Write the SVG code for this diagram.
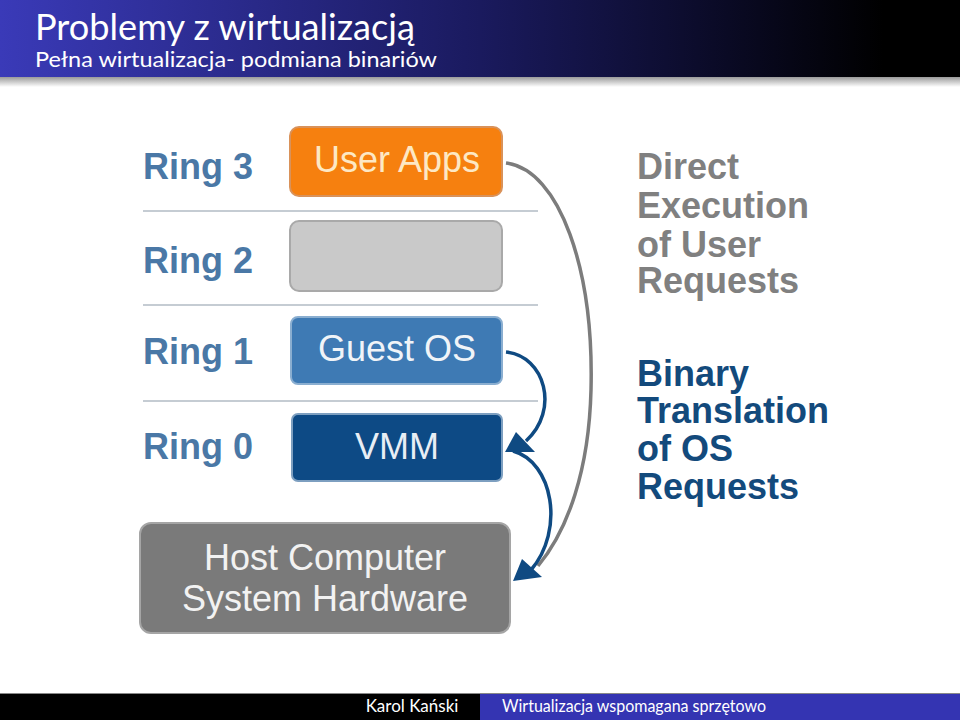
<svg xmlns="http://www.w3.org/2000/svg" width="960" height="720" viewBox="0 0 960 720">
  <defs>
    <linearGradient id="hdr" x1="0" y1="0" x2="1" y2="0">
      <stop offset="0" stop-color="#3a3ab8"/>
      <stop offset="0.5" stop-color="#1a1a5e"/>
      <stop offset="0.92" stop-color="#000000"/>
    </linearGradient>
    <linearGradient id="shd" x1="0" y1="0" x2="0" y2="1">
      <stop offset="0" stop-color="#9a9a9a"/>
      <stop offset="1" stop-color="#ffffff"/>
    </linearGradient>
  </defs>
  <style>
    .hd { font-family: Lato, "DejaVu Sans", sans-serif; fill: #ffffff; }
    .ring { font-family: "Liberation Sans", Arial, sans-serif; font-weight: bold; font-size: 36px; fill: #4a78a6; }
    .bx { font-family: "Liberation Sans", Arial, sans-serif; font-size: 36px; text-anchor: middle; }
    .sep { stroke: #c5ccd3; stroke-width: 2; }
    .rt { font-family: "Liberation Sans", Arial, sans-serif; font-weight: bold; font-size: 36px; }
    .ft { font-family: Lato, "DejaVu Sans", sans-serif; font-size: 17px; fill: #ffffff; }
  </style>
  <rect width="960" height="720" fill="#ffffff"/>
  <!-- header -->
  <rect x="0" y="0" width="960" height="77" fill="url(#hdr)"/>
  <rect x="0" y="77" width="960" height="10" fill="url(#shd)"/>
  <text class="hd" x="35" y="40" font-size="36" textLength="380" lengthAdjust="spacingAndGlyphs">Problemy z wirtualizacją</text>
  <text class="hd" x="35" y="67" font-size="22" textLength="402" lengthAdjust="spacingAndGlyphs">Pełna wirtualizacja- podmiana binariów</text>

  <!-- separators -->
  <g id="separators">
    <line class="sep" x1="143" y1="211" x2="538" y2="211"/>
    <line class="sep" x1="143" y1="305" x2="538" y2="305"/>
    <line class="sep" x1="143" y1="401" x2="538" y2="401"/>
  </g>

  <!-- ring labels -->
  <g id="ring-labels">
    <text class="ring" x="143" y="179">Ring 3</text>
    <text class="ring" x="143" y="273">Ring 2</text>
    <text class="ring" x="143" y="364">Ring 1</text>
    <text class="ring" x="143" y="459">Ring 0</text>
  </g>

  <g id="user-apps">
    <rect x="290" y="127" width="212" height="69" rx="9" fill="#f6800f" stroke="#d9925a" stroke-width="2"/>
    <text class="bx" x="397" y="172" fill="#fde8c4">User Apps</text>
  </g>
  <g id="ring2-box">
    <rect x="290" y="221" width="212" height="70" rx="9" fill="#c9c9c9" stroke="#a9a9a9" stroke-width="2"/>
  </g>
  <g id="guest-os">
    <rect x="291" y="317" width="211" height="67" rx="7" fill="#3e7ab4" stroke="#8aaed0" stroke-width="2"/>
    <text class="bx" x="397" y="361" fill="#f0f4f8">Guest OS</text>
  </g>
  <g id="vmm">
    <rect x="292" y="414" width="210" height="67" rx="6" fill="#0d4a85" stroke="#7d9fc0" stroke-width="2"/>
    <text class="bx" x="397" y="459" fill="#e8eef5">VMM</text>
  </g>
  <g id="host">
    <rect x="140" y="523" width="370" height="110" rx="11" fill="#7a7a7a" stroke="#a5a5a5" stroke-width="2"/>
    <text class="bx" x="325" y="570" fill="#f2f2f2">Host Computer</text>
    <text class="bx" x="325" y="611" fill="#f2f2f2">System Hardware</text>
  </g>

  <!-- connectors -->
  <g id="connectors" fill="none">
    <path d="M506,163 C560,170 594,270 591,390 C589,470 568,530 538,566" stroke="#7c7c7c" stroke-width="3.5"/>
    <path d="M506,352 C545,356 560,410 526,441" stroke="#0f4a82" stroke-width="3.5"/>
    <path d="M513,451 C553,462 565,530 531,570" stroke="#0f4a82" stroke-width="3.5"/>
    <polygon points="505,452 516,432 535,452" fill="#0f4a82"/>
    <polygon points="513,581 522,559 542,577" fill="#0f4a82"/>
  </g>

  <!-- right texts -->
  <g id="direct-exec">
    <text class="rt" fill="#808080" x="637" y="179">Direct</text>
    <text class="rt" fill="#808080" x="637" y="218">Execution</text>
    <text class="rt" fill="#808080" x="637" y="257">of User</text>
    <text class="rt" fill="#808080" x="637" y="293">Requests</text>
  </g>
  <g id="binary-translation">
    <text class="rt" fill="#134a7c" x="637" y="386">Binary</text>
    <text class="rt" fill="#134a7c" x="637" y="423">Translation</text>
    <text class="rt" fill="#134a7c" x="637" y="461">of OS</text>
    <text class="rt" fill="#134a7c" x="637" y="499">Requests</text>
  </g>

  <!-- footer -->
  <rect x="0" y="693" width="960" height="1" fill="#888888"/>
  <rect x="0" y="694" width="480" height="26" fill="#000000"/>
  <rect x="480" y="694" width="480" height="26" fill="#3434b2"/>
  <text class="ft" x="412" y="712" text-anchor="middle">Karol Kański</text>
  <text class="ft" x="502" y="712" textLength="264" lengthAdjust="spacingAndGlyphs">Wirtualizacja wspomagana sprzętowo</text>
</svg>
